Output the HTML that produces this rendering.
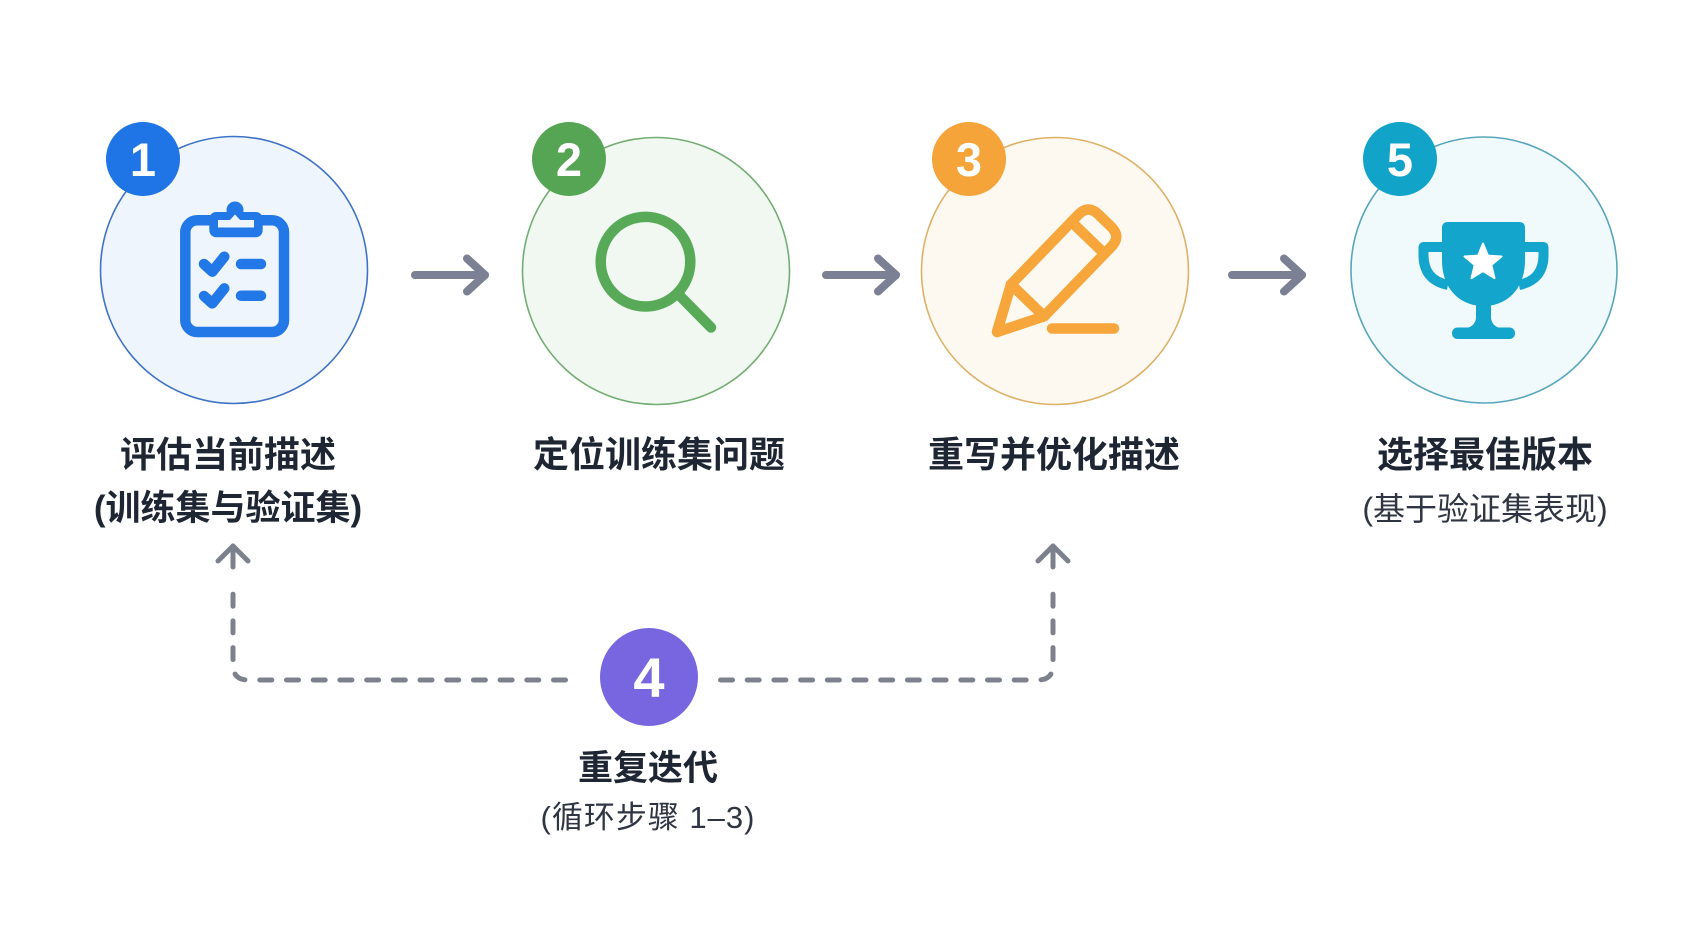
<!DOCTYPE html>
<html>
<head>
<meta charset="utf-8">
<style>
  html, body { margin:0; padding:0; background:#ffffff; }
  body { width:1693px; height:929px; overflow:hidden; }
  svg { display:block; }
  .t { font-family: "Liberation Sans", "Noto Sans CJK SC", sans-serif; }
</style>
</head>
<body>
<svg width="1693" height="929" viewBox="0 0 1693 929" xmlns="http://www.w3.org/2000/svg">
  <rect width="1693" height="929" fill="#ffffff"/>

  <!-- Circle 1 -->
  <circle cx="234" cy="270" r="133.5" fill="#eef5fd" stroke="#3f72c6" stroke-width="1.6"/>
  <!-- clipboard -->
  <g fill="none" stroke="#2378e8" stroke-width="10.5" stroke-linecap="round" stroke-linejoin="round">
    <rect x="185.3" y="220.3" width="98.7" height="111.7" rx="12"/>
    <polyline points="204,264 212.3,271.7 224.3,256.7"/>
    <polyline points="204,296 212.3,303.4 224.3,288.4"/>
    <line x1="241" y1="264" x2="261" y2="264"/>
    <line x1="241" y1="295.7" x2="261" y2="295.7"/>
  </g>
  <rect x="209.3" y="212" width="53.4" height="25.3" rx="7" fill="#2378e8"/>
  <circle cx="235" cy="210" r="8.5" fill="#2378e8"/>
  <rect x="218" y="220" width="36" height="7.5" fill="#eef5fd"/>
  <polygon points="229,221 235,214.5 241,221" fill="#eef5fd"/>
  <!-- badge 1 -->
  <circle cx="143" cy="159" r="37" fill="#1f74e6"/>
  <text x="143" y="176" text-anchor="middle" class="t" font-size="47" font-weight="bold" fill="#ffffff">1</text>

  <!-- Arrow 1 -->
  <g fill="none" stroke="#7b8094" stroke-width="8" stroke-linecap="round" stroke-linejoin="round">
    <line x1="415" y1="275" x2="485" y2="275"/>
    <polyline points="467,258.5 485,275 467,291.5"/>
  </g>

  <!-- Circle 2 -->
  <circle cx="656" cy="271" r="133.5" fill="#f1f8f1" stroke="#72ad72" stroke-width="1.6"/>
  <g fill="none" stroke="#58aa58" stroke-width="10.5" stroke-linecap="round">
    <circle cx="645.5" cy="261.7" r="44.8"/>
    <line x1="680" y1="296" x2="711" y2="327.5"/>
  </g>
  <circle cx="569" cy="159" r="37" fill="#55a555"/>
  <text x="569" y="176" text-anchor="middle" class="t" font-size="47" font-weight="bold" fill="#ffffff">2</text>

  <!-- Arrow 2 -->
  <g fill="none" stroke="#7b8094" stroke-width="8" stroke-linecap="round" stroke-linejoin="round">
    <line x1="826" y1="275" x2="896" y2="275"/>
    <polyline points="878,258.5 896,275 878,291.5"/>
  </g>

  <!-- Circle 3 -->
  <circle cx="1055" cy="271" r="133.5" fill="#fef9f0" stroke="#dfb067" stroke-width="1.6"/>
  <g transform="translate(997,332) rotate(-46)" fill="none" stroke="#f6a63a" stroke-width="10.5" stroke-linejoin="round" stroke-linecap="round">
    <path d="M0 0 L44 -23 L141 -23 Q155 -23 155 -9 L155 9 Q155 23 141 23 L44 23 Z"/>
    <line x1="44" y1="-23" x2="44" y2="23"/>
    <line x1="131" y1="-23" x2="131" y2="23"/>
  </g>
  <line x1="1052" y1="328.5" x2="1114" y2="328.5" stroke="#f6a63a" stroke-width="10.5" stroke-linecap="round"/>
  <circle cx="969" cy="159" r="37" fill="#f5a43a"/>
  <text x="969" y="176" text-anchor="middle" class="t" font-size="47" font-weight="bold" fill="#ffffff">3</text>

  <!-- Arrow 3 -->
  <g fill="none" stroke="#7b8094" stroke-width="8" stroke-linecap="round" stroke-linejoin="round">
    <line x1="1232" y1="275" x2="1302" y2="275"/>
    <polyline points="1284,258.5 1302,275 1284,291.5"/>
  </g>

  <!-- Circle 5 -->
  <circle cx="1484" cy="270" r="133" fill="#f0f9fc" stroke="#58a6bc" stroke-width="1.6"/>
  <g fill="#13a5cb">
    <path d="M1442 228 Q1442 222 1448 222 H1519 Q1525 222 1525 228 V260 C1525 290 1506 306 1483.5 306 C1461 306 1442 290 1442 260 Z"/>
    <path d="M1476 298 H1491 V318 Q1492 326 1500 328 H1467 Q1475 326 1476 318 Z"/>
    <rect x="1452" y="327.5" width="63" height="11.5" rx="5.5"/>
  </g>
  <g fill="none" stroke="#13a5cb" stroke-width="10" stroke-linejoin="round">
    <path d="M1444 247 H1423.5 V255 Q1423.5 280 1448 285"/>
    <path d="M1523 247 H1543.5 V255 Q1543.5 280 1519 285"/>
  </g>
  <polygon fill="#ffffff" stroke="#ffffff" stroke-width="2" stroke-linejoin="round"
    points="1483,243.5 1487.9,255.6 1501.5,256.5 1491.3,265 1494.5,278.2 1483,271 1471.5,278.2 1474.7,265 1464.5,256.5 1478.1,255.6"/>
  <circle cx="1400" cy="159" r="37" fill="#12a3c9"/>
  <text x="1400" y="176" text-anchor="middle" class="t" font-size="47" font-weight="bold" fill="#ffffff">5</text>

  <!-- Labels -->
  <g class="t" text-anchor="middle" fill="#1e2533">
    <text x="228" y="467" font-size="36" font-weight="bold">评估当前描述</text>
    <text x="228" y="520" font-size="35" font-weight="bold">(训练集与验证集)</text>
    <text x="659" y="467" font-size="36" font-weight="bold">定位训练集问题</text>
    <text x="1054" y="467" font-size="36" font-weight="bold">重写并优化描述</text>
    <text x="1485" y="467" font-size="36" font-weight="bold">选择最佳版本</text>
    <text x="1485" y="520" font-size="32" fill="#2f3542">(基于验证集表现)</text>
    <text x="648" y="780" font-size="35" font-weight="bold">重复迭代</text>
    <text x="648" y="828" font-size="31" letter-spacing="1" fill="#2f3542">(循环步骤 1–3)</text>
  </g>

  <!-- Loop dashed connectors -->
  <g fill="none" stroke="#7d818d" stroke-width="5" stroke-linecap="round" stroke-linejoin="round">
    <path d="M565.5 680 H248 Q233 680 233 665 V580" stroke-dasharray="12 14.7"/>
    <polyline points="218,561 233,546 248,561"/>
    <line x1="233" y1="546" x2="233" y2="567"/>
    <path d="M720.5 680 H1038 Q1053 680 1053 665 V580" stroke-dasharray="12 14.7"/>
    <polyline points="1038,561 1053,546 1068,561"/>
    <line x1="1053" y1="546" x2="1053" y2="567"/>
  </g>

  <!-- Circle 4 -->
  <circle cx="649" cy="677" r="49" fill="#7866e0"/>
  <text x="649" y="697" text-anchor="middle" class="t" font-size="56" font-weight="bold" fill="#ffffff">4</text>
</svg>
</body>
</html>
